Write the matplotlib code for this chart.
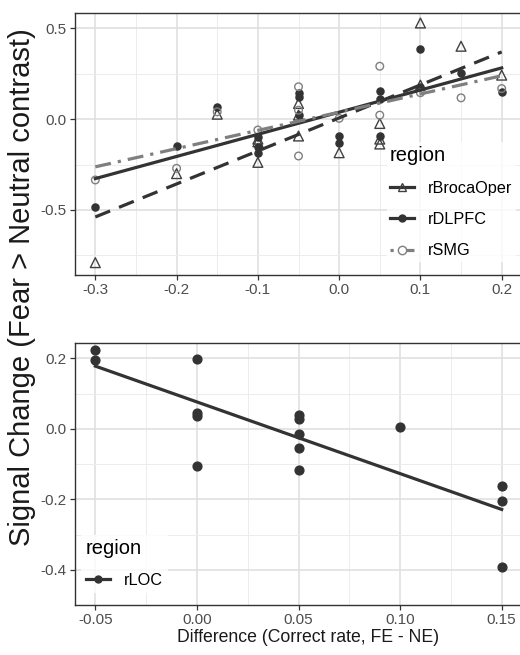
import numpy as np
import matplotlib
matplotlib.use('Agg')
import matplotlib.pyplot as plt
from matplotlib.lines import Line2D

plt.rcParams['font.family'] = ['Liberation Sans', 'DejaVu Sans']

# ---- data ----
broca_x = [-0.3, -0.2, -0.15, -0.1, -0.1, -0.1, -0.05, -0.05, -0.05, 0.0, 0.05, 0.05, 0.05, 0.1, 0.1, 0.15, 0.2]
broca_y = [-0.79, -0.30, 0.027, -0.11, -0.125, -0.238, 0.086, 0.022, -0.093, -0.185, -0.024, -0.11, -0.137, 0.529, 0.187, 0.401, 0.242]

dlpfc_x = [-0.3, -0.2, -0.15, -0.1, -0.1, -0.1, -0.05, -0.05, -0.05, 0.0, 0.0, 0.05, 0.05, 0.05, 0.1, 0.1, 0.15, 0.2]
dlpfc_y = [-0.482, -0.148, 0.068, -0.097, -0.152, -0.189, 0.141, 0.123, 0.022, -0.093, -0.130, 0.156, 0.108, -0.093, 0.388, 0.174, 0.255, 0.147]

smg_x = [-0.3, -0.2, -0.15, -0.1, -0.05, -0.05, -0.05, 0.0, 0.05, 0.05, 0.1, 0.15, 0.2]
smg_y = [-0.335, -0.271, 0.04, -0.06, 0.178, 0.049, -0.203, 0.004, 0.291, 0.022, 0.145, 0.117, 0.168]

loc_x = [-0.05, -0.05, 0.0, 0.0, 0.0, 0.0, 0.05, 0.05, 0.05, 0.05, 0.05, 0.1, 0.15, 0.15, 0.15]
loc_y = [0.223, 0.196, 0.198, 0.045, 0.037, -0.105, 0.040, 0.028, -0.015, -0.054, -0.118, 0.006, -0.161, -0.204, -0.391]

top_xticks = [-0.3, -0.2, -0.1, 0.0, 0.1, 0.2]
top_yticks = [0.5, 0.0, -0.5]
bot_xticks = [-0.05, 0.0, 0.05, 0.10, 0.15]
bot_yticks = [0.2, 0.0, -0.2, -0.4]

dark = '#333333'
mid = '#7f7f7f'
tick_col = '#4d4d4d'


def style(ax, xmaj, ymaj, xfmt, yfmt):
    ax.set_facecolor('white')
    ax.set_xticks(xmaj)
    ax.set_yticks(ymaj)
    ax.set_xticklabels([xfmt.format(v) for v in xmaj])
    ax.set_yticklabels([yfmt.format(v) for v in ymaj])
    dx = xmaj[1] - xmaj[0]
    dy = ymaj[0] - ymaj[1]
    xmin = [v + dx / 2 for v in xmaj[:-1]]
    ymin = [v - dy / 2 for v in ymaj[:-1]] + [ymaj[-1] - dy / 2]
    ax.set_xticks(xmin, minor=True)
    ax.set_yticks(ymin, minor=True)
    ax.tick_params(which='minor', length=0)
    ax.tick_params(which='major', length=3.5, width=0.9, color='#333333',
                   labelsize=11, labelcolor=tick_col, pad=2.5)
    ax.grid(which='major', color='#e0e0e0', lw=1.2)
    ax.grid(which='minor', color='#ececec', lw=0.7)
    ax.set_axisbelow(True)
    for s in ax.spines.values():
        s.set_color('#333333')
        s.set_linewidth(1.0)


def fit_line(ax, x, y, **kw):
    x = np.asarray(x)
    k, b = np.polyfit(x, np.asarray(y), 1)
    xs = np.array([x.min(), x.max()])
    ax.plot(xs, k * xs + b, **kw)


fig = plt.figure(figsize=(5.2, 6.55), dpi=100)
W, H = 520, 655
ax1 = fig.add_axes([75 / W, 1 - 275 / H, 447 / W, 262 / H])
ax2 = fig.add_axes([75 / W, 1 - 605 / H, 447 / W, 262 / H])

# top panel
ax1.scatter(broca_x, broca_y, marker='^', s=50, facecolors='none', edgecolors='#404040', linewidths=1.0, zorder=3)
ax1.scatter(dlpfc_x, dlpfc_y, marker='o', s=26, color=dark, zorder=3)
ax1.scatter(smg_x, smg_y, marker='o', s=30, facecolors='none', edgecolors=mid, linewidths=1.0, zorder=3)
fit_line(ax1, broca_x, broca_y, color=dark, lw=2.3, ls=(0, (5, 3)), zorder=4)
fit_line(ax1, dlpfc_x, dlpfc_y, color=dark, lw=2.3, ls='-', zorder=4)
fit_line(ax1, smg_x, smg_y, color=mid, lw=2.3, ls=(0, (5, 2.2, 1, 2.2)), zorder=4)
ax1.set_xlim(-0.325, 0.225)
ax1.set_ylim(-0.858, 0.584)
style(ax1, top_xticks, top_yticks, '{:.1f}', '{:.1f}')

h1 = [
    Line2D([], [], color=dark, lw=2.3, marker='^', markersize=6, markerfacecolor='none', markeredgecolor='#404040'),
    Line2D([], [], color=dark, lw=2.3, marker='o', markersize=5),
    Line2D([], [], color=mid, lw=2.3, ls=(0, (1, 1.5, 5, 1)), marker='o', markersize=6, markerfacecolor='white', markeredgecolor=mid),
]
leg1 = ax1.legend(h1, ['rBrocaOper', 'rDLPFC', 'rSMG'], title='region', loc='lower right',
                  bbox_to_anchor=(1.004, 0.02), frameon=True, fancybox=False, edgecolor='none',
                  fontsize=11.7, title_fontsize=14.5, handlelength=1.5, labelspacing=1.0,
                  borderpad=0.2, handletextpad=0.85)
leg1._legend_box.align = 'left'

# bottom panel
ax2.scatter(loc_x, loc_y, marker='o', s=40, color=dark, zorder=3)
fit_line(ax2, loc_x, loc_y, color=dark, lw=2.3, ls='-', zorder=4)
ax2.set_xlim(-0.06, 0.16)
ax2.set_ylim(-0.4297, 0.244)
style(ax2, bot_xticks, bot_yticks, '{:.2f}', '{:.1f}')
h2 = [Line2D([], [], color=dark, lw=2.3, marker='o', markersize=5)]
leg2 = ax2.legend(h2, ['rLOC'], title='region', loc='lower left', bbox_to_anchor=(-0.005, 0.015),
                  frameon=True, fancybox=False, edgecolor='none', facecolor='white',
                  fontsize=11.7, title_fontsize=14.5, handlelength=1.5, borderpad=0.3,
                  handletextpad=0.85, labelspacing=0.9)
leg2._legend_box.align = 'left'

fig.text(22 / W, 1 - 287 / H, 'Signal Change (Fear > Neutral contrast)', rotation=90,
         ha='center', va='center', fontsize=21, color='#1a1a1a')
fig.text(308 / W, 1 - 638 / H, 'Difference (Correct rate, FE - NE)', ha='center', va='center',
         fontsize=12.7, color='#1a1a1a')

fig.savefig('out.png', dpi=100)
